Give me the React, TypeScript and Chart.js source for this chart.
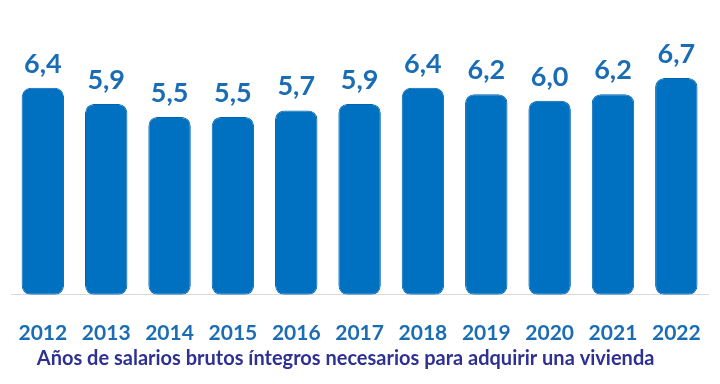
import React, { useEffect, useRef } from "react";
import { Chart, registerables } from "chart.js";

Chart.register(...registerables);

const years = ["2012", "2013", "2014", "2015", "2016", "2017", "2018", "2019", "2020", "2021", "2022"];
const values = [6.4, 5.9, 5.5, 5.5, 5.7, 5.9, 6.4, 6.2, 6.0, 6.2, 6.7];
const axisTitle = "Años de salarios brutos íntegros necesarios para adquirir una vivienda";

const FONT = "Lato, 'Open Sans', sans-serif";

const valueLabels = {
  id: "valueLabels",
  afterDatasetsDraw(chart: any) {
    const ctx = chart.ctx;
    const meta = chart.getDatasetMeta(0);
    ctx.save();
    ctx.font = `bold 27px ${FONT}`;
    ctx.fillStyle = "#1a6db5";
    ctx.textAlign = "center";
    ctx.textBaseline = "alphabetic";
    meta.data.forEach((bar: any, i: number) => {
      const txt = values[i].toFixed(1).replace(".", ",");
      ctx.fillText(txt, bar.x, bar.y - 15);
    });
    ctx.restore();
  },
};

const bottomTitle = {
  id: "bottomTitle",
  afterDraw(chart: any) {
    const ctx = chart.ctx;
    const a = chart.chartArea;
    ctx.save();
    ctx.font = `bold 20px ${FONT}`;
    ctx.fillStyle = "#2e3192";
    ctx.textAlign = "center";
    ctx.textBaseline = "middle";
    ctx.fillText(axisTitle, (a.left + a.right) / 2 - 14, a.bottom + 64);
    ctx.restore();
  },
};

export default function App() {
  const ref = useRef<HTMLCanvasElement>(null);
  useEffect(() => {
    document.body.style.margin = "0";
    const chart = new Chart(ref.current!, {
      type: "bar",
      data: {
        labels: years,
        datasets: [
          {
            data: values,
            backgroundColor: "#0070c0",
            borderColor: "#0063ad",
            borderWidth: 1,
            borderRadius: 9,
            borderSkipped: false,
            categoryPercentage: 1,
            barPercentage: 0.67,
          },
        ],
      },
      options: {
        animation: false,
        responsive: false,
        maintainAspectRatio: false,
        layout: { padding: { left: 11, right: 12, top: 36, bottom: 20 } },
        plugins: { legend: { display: false }, tooltip: { enabled: false } },
        scales: {
          y: { display: false, min: 0, max: 8 },
          x: {
            grid: { display: false },
            border: { display: true, color: "#d9d9d9", width: 1 },
            ticks: {
              color: "#1a6db5",
              font: { family: FONT, size: 21, weight: "bold" },
              padding: 18,
            },
          },
        },
      },
      plugins: [valueLabels, bottomTitle],
    });
    return () => chart.destroy();
  }, []);
  return (
    <div style={{ position: "fixed", left: 0, top: 0, width: 720, height: 384, background: "#fff" }}>
      <canvas ref={ref} width={720} height={384} />
    </div>
  );
}
